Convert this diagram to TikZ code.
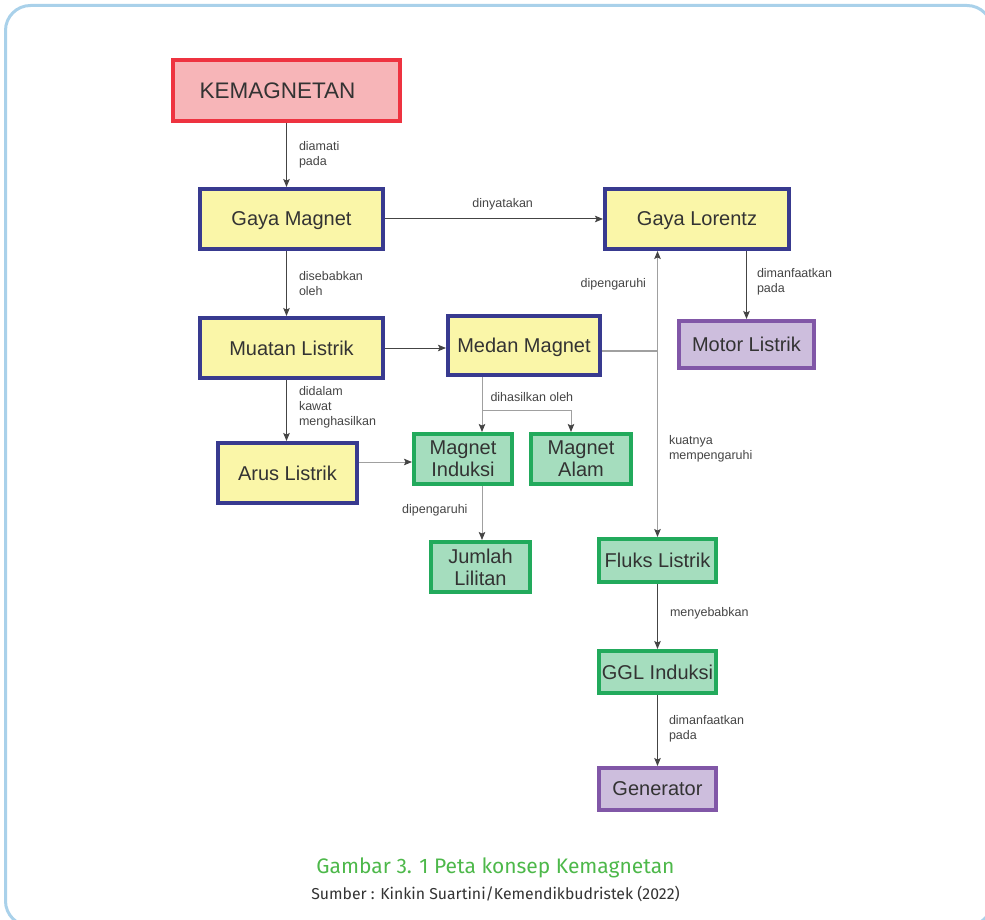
\documentclass[tikz,border=0pt]{standalone}
\usepackage{fontspec}
\setmainfont{Liberation Sans}
\newfontfamily\capfont{Fira Sans}
\usepackage{tikz}
\usetikzlibrary{arrows.meta,positioning}
\definecolor{kemred}{HTML}{EE3340}
\definecolor{kempink}{HTML}{F7B5B8}
\definecolor{conblue}{HTML}{383A8F}
\definecolor{conyellow}{HTML}{FAF6A8}
\definecolor{grnborder}{HTML}{22AA5C}
\definecolor{grnfill}{HTML}{A5DDBE}
\definecolor{purpborder}{HTML}{8157A7}
\definecolor{purpfill}{HTML}{CDBEDD}
\definecolor{ink}{HTML}{333333}
\definecolor{labelgray}{HTML}{444444}
\definecolor{linedark}{HTML}{444444}
\definecolor{linegray}{HTML}{A0A0A0}
\definecolor{frameblue}{HTML}{A9D1EA}
\definecolor{capgreen}{HTML}{4DB84A}
\tikzset{
  topic/.style={draw=kemred, fill=kempink, line width=4pt, inner sep=0pt,
                text depth=0pt, font=\fontsize{22.5}{24}\selectfont, text=ink},
  concept/.style={draw=conblue, fill=conyellow, line width=4pt, inner sep=0pt,
                  text depth=0pt, align=center, font=\fontsize{20}{22}\selectfont, text=ink},
  effect/.style={draw=grnborder, fill=grnfill, line width=4pt, inner sep=0pt,
                 text depth=0pt, align=center, font=\fontsize{20}{22}\selectfont, text=ink},
  usage/.style={draw=purpborder, fill=purpfill, line width=4pt, inner sep=0pt,
                text depth=0pt, align=center, font=\fontsize{20}{22}\selectfont, text=ink},
  lbl/.style={font=\fontsize{12.5}{15}\selectfont, text=labelgray, align=left,
              inner sep=0pt},
  flow/.style={-{Stealth[length=8pt,width=6.5pt,inset=1.5pt,color=linedark]},
               line width=1pt, draw=linedark},
  soft/.style={draw=linegray, line width=1pt},
  frame/.style={draw=frameblue, line width=3pt, rounded corners=25pt},
}
\begin{document}
\begin{tikzpicture}[x=1pt,y=-1pt]
  \useasboundingbox (0,0) rectangle (985,920);
  \draw[frame] (5.5,5.5) rectangle (992,926);

  % concept boxes
  \node[topic, minimum width=227pt, minimum height=61pt] (kem) at (286.5,90.5) {\hspace*{-18pt}KEMAGNETAN};
  \node[concept, minimum width=183pt, minimum height=60pt] (gm) at (291.5,219) {Gaya Magnet};
  \node[concept, minimum width=184pt, minimum height=60pt] (gl) at (697,219) {Gaya Lorentz};
  \node[concept, minimum width=183pt, minimum height=60pt] (ml) at (291.5,348) {Muatan Listrik};
  \node[concept, minimum width=152pt, minimum height=59pt] (mm) at (524,345.5) {Medan Magnet};
  \node[usage, minimum width=135pt, minimum height=47pt] (mot) at (746.5,344.5) {Motor Listrik};
  \node[concept, minimum width=139pt, minimum height=60pt] (al) at (287.5,473) {Arus Listrik};
  \node[effect, minimum width=98pt, minimum height=50pt] (mi) at (463,459) {Magnet\\Induksi};
  \node[effect, minimum width=100pt, minimum height=50pt] (ma) at (581,459) {Magnet\\Alam};
  \node[effect, minimum width=99pt, minimum height=50pt] (jl) at (480.5,567) {Jumlah\\Lilitan};
  \node[effect, minimum width=117pt, minimum height=43pt] (fl) at (657.5,560.5) {Fluks Listrik};
  \node[effect, minimum width=117pt, minimum height=42pt] (ggl) at (657.5,672) {GGL Induksi};
  \node[usage, minimum width=117pt, minimum height=42pt] (gen) at (657.5,789) {Generator};

  \coordinate (splitL) at (482,410);
  \coordinate (splitR) at (571,410);
  \path ([yshift=11pt]al.east) coordinate (arusout);
  \path ([yshift=-5.5pt]mm.east) coordinate (medanout);

  % connectors
  \draw[flow] (kem.south) -- node[lbl, right=12pt] {diamati\\pada} (kem.south |- gm.north);
  \draw[flow] (gm.east) -- node[lbl, above=8pt, pos=0.54] {dinyatakan} (gl.west);
  \draw[flow] (gm.south -| kem.south) -- node[lbl, right=12pt] {disebabkan\\oleh} (kem.south |- ml.north);
  \draw[flow] (ml.south -| kem.south) -- node[lbl, right=12pt, pos=0.45] {didalam\\kawat\\menghasilkan} (kem.south |- al.north);
  \draw[flow] (gl.south -| mot.north) -- node[lbl, right=10pt, pos=0.45] {dimanfaatkan\\pada} (mot.north);
  \draw[flow] (ml.east) -- (ml.east -| mm.west);
  \draw[soft, line width=2pt] (medanout) -- (medanout -| fl.north);
  \draw[flow, draw=linegray, {Stealth[length=8pt,width=6.5pt,inset=1.5pt,color=linedark]}-{Stealth[length=8pt,width=6.5pt,inset=1.5pt,color=linedark]}]
    (gl.south -| fl.north) -- node[lbl, left=11pt, pos=0.115] {dipengaruhi}
    node[lbl, right=11pt, pos=0.69] {kuatnya\\mempengaruhi} (fl.north);
  \draw[soft] (mm.south -| splitL) -- node[lbl, right=8pt, pos=0.6] {dihasilkan oleh} (splitL) -- (splitR);
  \draw[flow, draw=linegray] (splitL) -- (splitL |- mi.north);
  \draw[flow, draw=linegray] (splitR) -- (splitR |- ma.north);
  \draw[flow, draw=linegray] (arusout) -- (arusout -| mi.west);
  \draw[flow, draw=linegray] (mi.south -| splitL) -- node[lbl, left=14pt, pos=0.45] {dipengaruhi} (splitL |- jl.north);
  \draw[flow] (fl.south) -- node[lbl, right=12pt, pos=0.45] {menyebabkan} (ggl.north);
  \draw[flow] (ggl.south) -- node[lbl, right=11pt, pos=0.47] {dimanfaatkan\\pada} (gen.north);

  % caption
  \node[font=\capfont\fontsize{21}{24}\selectfont, text=capgreen] (captitle) at (495.5,868) {Gambar 3. 1 Peta konsep Kemagnetan};
  \node[font=\capfont\fontsize{15.8}{18}\selectfont, text=ink, below=1pt of captitle] (capsrc) {Sumber : Kinkin Suartini/Kemendikbudristek (2022)};
\end{tikzpicture}
\end{document}
